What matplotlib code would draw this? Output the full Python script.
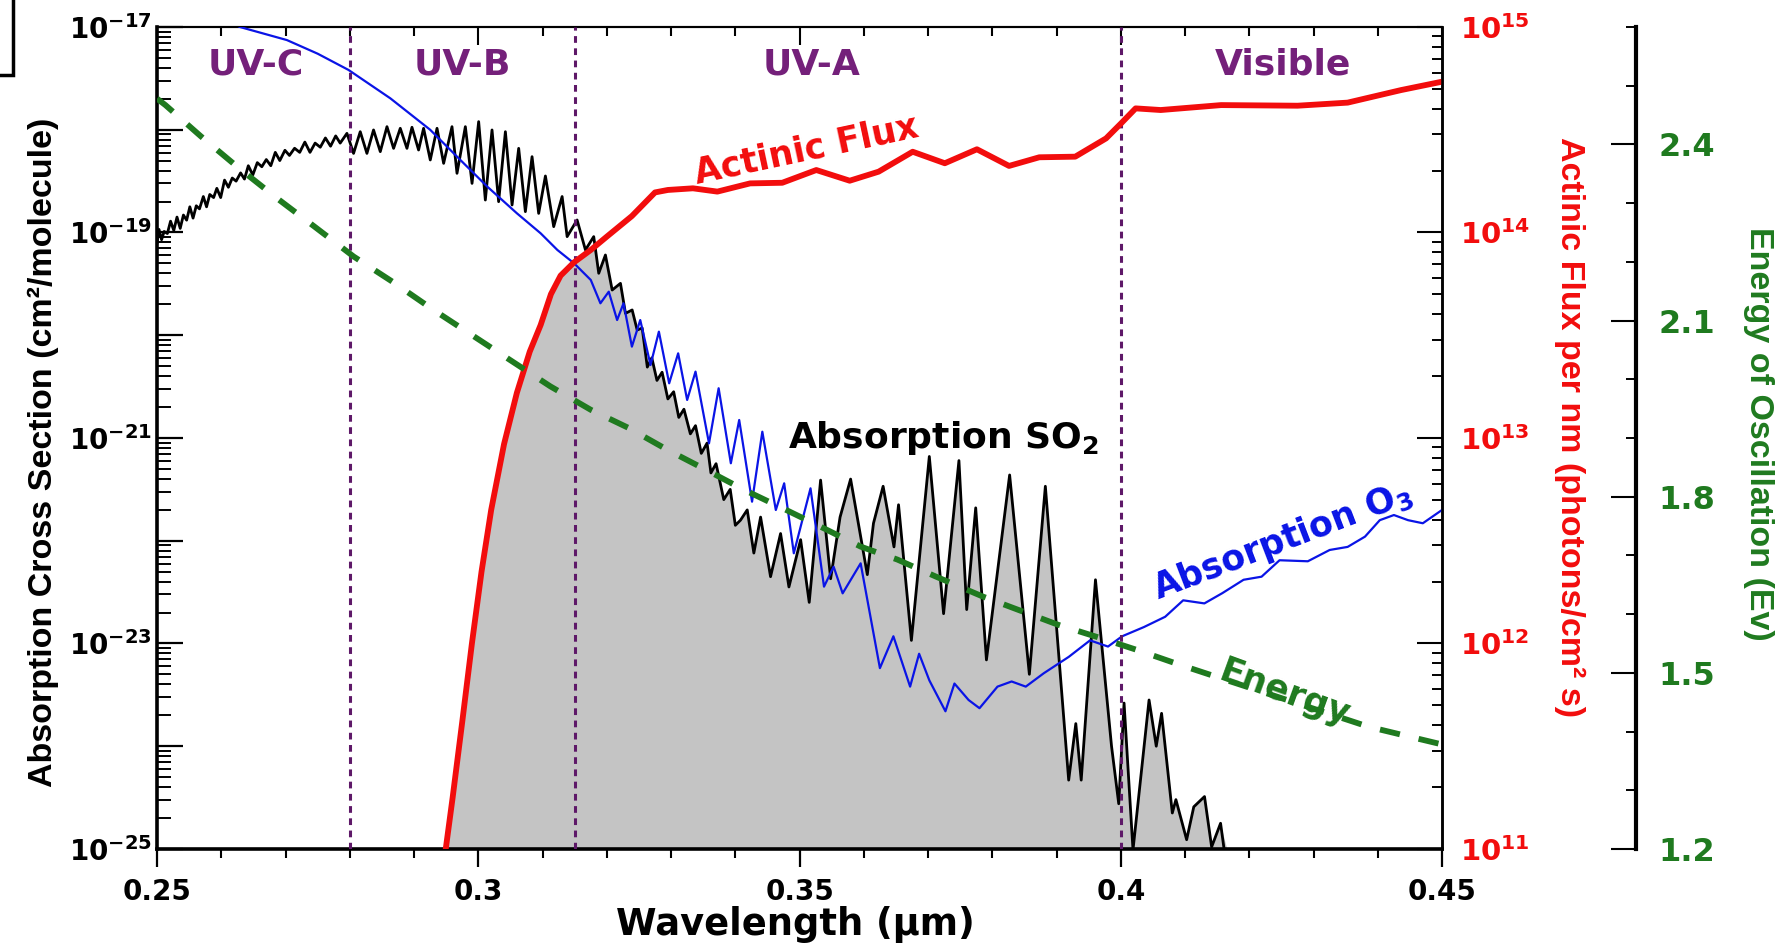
import numpy as np
import matplotlib
matplotlib.use('Agg')
import matplotlib.pyplot as plt
from matplotlib.ticker import FixedLocator, LogLocator, MultipleLocator, NullFormatter, FuncFormatter
from matplotlib.patches import Rectangle

plt.rcParams['font.family'] = ['DejaVu Sans']
plt.rcParams['font.weight'] = 'bold'
plt.rcParams['mathtext.fontset'] = 'dejavusans'

# SO2 absorption cross section, log10(cm2/molecule)
so2_wl = [0.2500, 0.2503, 0.2507, 0.2511, 0.2516, 0.2521, 0.2526, 0.2531, 0.2536, 0.2541,
          0.2546, 0.2551, 0.2556, 0.2561, 0.2566, 0.2572, 0.2577, 0.2582, 0.2588, 0.2593,
          0.2599, 0.2605, 0.2611, 0.2617, 0.2623, 0.2630, 0.2636, 0.2642, 0.2649, 0.2656,
          0.2663, 0.2670, 0.2677, 0.2684, 0.2691, 0.2699, 0.2706, 0.2714, 0.2722, 0.2730,
          0.2738, 0.2746, 0.2754, 0.2762, 0.2770, 0.2778, 0.2785,
          0.27955, 0.28058, 0.28162, 0.28266,
          0.28369, 0.28474, 0.28578, 0.28681, 0.28785, 0.28889, 0.28967, 0.29070, 0.29148, 0.29252,
          0.29357, 0.29460, 0.29590, 0.29668, 0.29798, 0.29902, 0.30005, 0.30109, 0.30213, 0.30316,
          0.30421, 0.30525, 0.30628, 0.30732, 0.30836, 0.30939, 0.31044, 0.31173, 0.31304, 0.31382,
          0.31537, 0.31667, 0.31796, 0.31874, 0.31978, 0.32083, 0.32212, 0.32290, 0.32394, 0.32472,
          0.3255, 0.3263, 0.3270, 0.3278, 0.3286, 0.3295, 0.3304, 0.3312, 0.3320, 0.3330,
          0.3338, 0.3347, 0.3356, 0.3362, 0.3370, 0.3382, 0.3392, 0.3400, 0.3408, 0.34185,
          0.34288, 0.34393, 0.34548, 0.34704, 0.34834, 0.35016, 0.3515, 0.35327, 0.35483, 0.3563,
          0.35794, 0.36054, 0.3615, 0.3630, 0.36469, 0.3654, 0.3674, 0.37019, 0.37241, 0.3748,
          0.37601, 0.37741, 0.37908, 0.38269, 0.38576, 0.38825, 0.39188, 0.39299, 0.39383, 0.39605,
          0.39855, 0.39967, 0.4005, 0.40189, 0.40439, 0.40551, 0.40634, 0.40801, 0.40857, 0.41024,
          0.41135, 0.41302, 0.41413, 0.41552, 0.4165]
so2_log = [-19.10, -18.97, -19.07, -18.99, -19.01, -18.89, -18.98, -18.85, -18.96, -18.83,
           -18.88, -18.75, -18.86, -18.74, -18.77, -18.65, -18.75, -18.63, -18.66, -18.57,
           -18.66, -18.49, -18.56, -18.47, -18.50, -18.42, -18.48, -18.35, -18.44, -18.32,
           -18.36, -18.29, -18.35, -18.22, -18.30, -18.20, -18.25, -18.18, -18.22, -18.12,
           -18.22, -18.13, -18.17, -18.08, -18.16, -18.06, -18.13,
           -18.035, -18.230, -18.019, -18.230,
           -18.002, -18.213, -17.970, -18.181, -17.986, -18.181, -17.976, -18.197, -17.986, -18.294,
           -17.986, -18.327, -17.970, -18.424, -17.970, -18.522, -17.921, -18.684, -18.002, -18.700,
           -18.019, -18.732, -18.181, -18.797, -18.262, -18.814, -18.45, -18.943, -18.65, -19.040,
           -18.878, -19.170, -19.040, -19.397, -19.219, -19.560, -19.495, -19.787, -19.754, -19.949,
           -19.93, -20.31, -20.22, -20.44, -20.36, -20.62, -20.55, -20.80, -20.72, -20.96,
           -20.88, -21.15, -21.05, -21.34, -21.25, -21.60, -21.50, -21.85, -21.80, -21.70,
           -22.12, -21.77, -22.35, -21.93, -22.45, -21.99, -22.60, -21.41, -22.37, -21.77,
           -21.40, -22.33, -21.83, -21.47, -22.06, -21.65, -22.97, -21.18, -22.71, -21.22,
           -22.67, -21.68, -23.16, -21.36, -23.30, -21.47, -24.33, -23.78, -24.33, -22.38,
           -24.00, -24.56, -23.58, -25.01, -23.55, -24.00, -23.68, -24.65, -24.52, -24.91,
           -24.59, -24.49, -24.98, -24.75, -25.20]

# O3 absorption cross section, log10(cm2/molecule)
o3_wl = [0.2550, 0.2629, 0.2702, 0.2750, 0.2798, 0.2863, 0.2925, 0.2972, 0.3014, 0.3060, 0.3097,
         0.3123, 0.3149, 0.3175, 0.3190, 0.3203, 0.3216, 0.3226, 0.3239, 0.3252, 0.3268,
         0.3281, 0.3297, 0.3311, 0.3325, 0.3338, 0.3359, 0.3374, 0.3393, 0.3406, 0.3426,
         0.3442, 0.3463, 0.3476, 0.3491, 0.3517, 0.3538, 0.3553, 0.3567, 0.3595, 0.3625,
         0.3646, 0.3672, 0.3686, 0.3702, 0.3727, 0.3741, 0.3763, 0.3780, 0.3808, 0.3830,
         0.3852, 0.3880, 0.3919, 0.3952, 0.3980, 0.4002, 0.4036, 0.4069, 0.4097, 0.4130,
         0.4158, 0.4191, 0.4219, 0.4247, 0.4291, 0.4325, 0.4353, 0.4380, 0.4403, 0.4425,
         0.4447, 0.4470, 0.4500]
o3_log = [-16.75, -17.00, -17.127, -17.26, -17.418, -17.694, -18.000, -18.294, -18.554, -18.813, -19.008,
          -19.170, -19.300, -19.462, -19.689, -19.576, -19.852, -19.689, -20.111, -19.852, -20.290,
          -19.965, -20.468, -20.176, -20.630, -20.354, -21.052, -20.516, -21.246, -20.825, -21.620,
          -20.939, -21.701, -21.441, -22.122, -21.490, -22.447, -22.253, -22.512, -22.220, -23.24,
          -22.93, -23.42, -23.10, -23.36, -23.66, -23.39, -23.55, -23.63, -23.42, -23.37,
          -23.42, -23.29, -23.13, -22.97, -23.03, -22.93, -22.84, -22.74, -22.58, -22.61,
          -22.51, -22.38, -22.35, -22.19, -22.20, -22.09, -22.06, -21.96, -21.80, -21.75,
          -21.80, -21.83, -21.70]

# actinic flux, log10(photons/cm2 s nm)
flux_wl = [0.2945, 0.2960, 0.2975, 0.2990, 0.3005, 0.3020, 0.3040, 0.3060, 0.3080, 0.3097,
           0.3113, 0.3128, 0.3149, 0.3175, 0.3200, 0.3239, 0.3275, 0.3295, 0.3334, 0.3372,
           0.3423, 0.3473, 0.3526, 0.3578, 0.3623, 0.3676, 0.3726, 0.3776, 0.3826, 0.3873,
           0.3929, 0.3977, 0.4000, 0.4023, 0.4062, 0.4156, 0.4275, 0.4353, 0.4436, 0.4500]
flux_log = [10.90, 11.25, 11.62, 12.00, 12.35, 12.65, 12.97, 13.22, 13.42, 13.55,
            13.70, 13.79, 13.855, 13.915, 13.98, 14.08, 14.195, 14.207, 14.215, 14.199,
            14.239, 14.242, 14.304, 14.252, 14.296, 14.393, 14.337, 14.405, 14.324, 14.366,
            14.369, 14.458, 14.53, 14.604, 14.596, 14.620, 14.617, 14.632, 14.693, 14.734]

# photon energy (Ev)
energy_wl = [0.2500, 0.2513, 0.2568, 0.2627, 0.2687, 0.2745, 0.2806, 0.2868, 0.2929, 0.3112,
             0.3175, 0.3234, 0.3294, 0.3354, 0.3413, 0.3478, 0.3538, 0.3595, 0.3652, 0.3712,
             0.3785, 0.3841, 0.3902, 0.3969, 0.4025, 0.4091, 0.4386, 0.4458, 0.4500]
energy_ev = [2.478, 2.467, 2.414, 2.360, 2.308, 2.260, 2.209, 2.165, 2.119, 1.988,
             1.948, 1.917, 1.880, 1.846, 1.812, 1.778, 1.746, 1.715, 1.693, 1.664,
             1.630, 1.607, 1.582, 1.559, 1.539, 1.514, 1.408, 1.389, 1.378]

region_names = ['UV-C', 'UV-B', 'UV-A', 'Visible']
region_centers = [0.2654, 0.2975, 0.3519, 0.4252]
region_bounds = [0.28, 0.315, 0.40]

purple = '#74207a'
green = '#1f7a1f'

fig = plt.figure(figsize=(17.87, 9.51), dpi=100)
fig.patch.set_facecolor('white')
ax = fig.add_axes([0.0879, 0.1073, 0.7191, 0.8643])
ax.set_xlim(0.25, 0.45)
ax.set_yscale('log')
ax.set_ylim(1e-25, 1e-17)

ax2 = ax.twinx()
ax2.set_yscale('log')
ax2.set_ylim(1e11, 1e15)

ax3 = ax.twinx()
ax3.set_ylim(1.2, 2.6)
ax3.spines['right'].set_position(('axes', 1.151))

# gray area: under SO2 curve and actinic flux curve (flux mapped onto left scale)
so2_wl = np.array(so2_wl)
so2_log = np.array(so2_log)
flux_wl = np.array(flux_wl)
flux_log = np.array(flux_log)
lo1, hi1 = np.log10(ax.get_ylim())
lo2, hi2 = np.log10(ax2.get_ylim())
flux_on_left = lo1 + (flux_log - lo2) / (hi2 - lo2) * (hi1 - lo1)
grid = np.union1d(so2_wl, flux_wl)
grid = grid[(grid >= flux_wl[0]) & (grid <= so2_wl[-1])]
top = np.minimum(np.interp(grid, so2_wl, so2_log), np.interp(grid, flux_wl, flux_on_left))
top = np.maximum(top, lo1)
ax.fill_between(grid, 10.0 ** lo1, 10.0 ** top, color='#c4c4c4', lw=0, zorder=1)

ax.plot(so2_wl, 10.0 ** so2_log, color='black', lw=2.0, zorder=2)
ax.plot(o3_wl, 10.0 ** np.array(o3_log), color='#0a14e6', lw=1.6, zorder=3)
for b in region_bounds:
    ax.axvline(b, color='#5e1868', lw=2.2, dashes=(2.2, 1.8), zorder=4)
for name, c in zip(region_names, region_centers):
    ax.text(c, 0.954, name, transform=ax.get_xaxis_transform(), ha='center', va='center',
            fontsize=26, color=purple, fontweight='bold', zorder=5)

ax2.plot(flux_wl, 10.0 ** flux_log, color='#f20d0d', lw=4.2, solid_capstyle='butt')
ax3.plot(energy_wl, energy_ev, color=green, lw=4.2, dashes=(3.5, 3.3), dash_capstyle='butt')

# annotations
ax2.text(0.3511, 10 ** 14.40, 'Actinic Flux', rotation=12, color='#f20d0d', fontsize=25,
         ha='center', va='center', fontweight='bold')
ax.text(0.3724, 10 ** -21.0, r'Absorption SO$_\mathbf{2}$', color='black', fontsize=26,
        ha='center', va='center', fontweight='bold', zorder=6)
ax.text(0.4252, 10 ** -22.0, r'Absorption O$_\mathbf{3}$', rotation=21, color='#0a14e6',
        fontsize=25, ha='center', va='center', fontweight='bold', zorder=6)
ax3.text(0.4255, 1.465, 'Energy', rotation=-20, color=green, fontsize=25,
         ha='center', va='center', fontweight='bold')

# x axis
ax.xaxis.set_major_locator(FixedLocator([0.25, 0.30, 0.35, 0.40, 0.45]))
ax.xaxis.set_minor_locator(MultipleLocator(0.01))
ax.xaxis.set_major_formatter(FuncFormatter(lambda v, p: ('%.2f' % v).rstrip('0')))
ax.tick_params(axis='x', which='major', direction='out', length=13, width=1.6, labelsize=20, pad=8)
ax.tick_params(axis='x', which='minor', direction='out', length=6.5, width=1.5)
secx = ax.secondary_xaxis('top')
secx.xaxis.set_major_locator(FixedLocator([0.25, 0.30, 0.35, 0.40, 0.45]))
secx.xaxis.set_minor_locator(MultipleLocator(0.01))
secx.tick_params(axis='x', which='major', direction='in', length=13, width=1.5, labeltop=False)
secx.tick_params(axis='x', which='minor', direction='in', length=6.5, width=1.5)
secx.spines['top'].set_linewidth(1.5)

ax.set_xlabel('Wavelength (μm)', fontsize=26.5, fontweight='bold')
ax.xaxis.set_label_coords(0.497, -0.0925)
ax.xaxis.label.set_va('center')

# left axis
ax.yaxis.set_major_locator(LogLocator(base=10, numticks=20))
ax.yaxis.set_minor_locator(LogLocator(base=10, subs=np.arange(2, 10), numticks=200))
ax.yaxis.set_minor_formatter(NullFormatter())


def left_fmt(v, pos):
    e = int(round(np.log10(v)))
    if e % 2 == 1:
        return r'$\mathbf{10^{%d}}$' % e
    return ''


ax.yaxis.set_major_formatter(FuncFormatter(left_fmt))
ax.tick_params(axis='y', which='major', direction='in', length=19, width=1.6, labelsize=20, pad=4)
ax.tick_params(axis='y', which='minor', direction='in', length=10, width=1.4)
ax.set_ylabel('Absorption Cross Section (cm²/molecule)', fontsize=24.5, fontweight='bold',
              family='Liberation Sans', va='center', ha='center')
ax.yaxis.set_label_coords(-0.0887, 0.482)

for s in ['left', 'bottom']:
    ax.spines[s].set_linewidth(2.6)
ax.spines['top'].set_linewidth(1.5)
ax.spines['right'].set_linewidth(1.8)

# right axis: actinic flux
ax2.yaxis.set_major_locator(LogLocator(base=10, numticks=20))
ax2.yaxis.set_minor_locator(LogLocator(base=10, subs=np.arange(2, 10), numticks=200))
ax2.yaxis.set_minor_formatter(NullFormatter())
ax2.yaxis.set_major_formatter(FuncFormatter(lambda v, p: r'$10^{%d}$' % int(round(np.log10(v)))))
ax2.tick_params(axis='y', which='major', direction='in', length=18, width=1.5, labelsize=21,
                labelcolor='#f20d0d', pad=13)
ax2.tick_params(axis='y', which='minor', direction='in', length=7, width=1.4)
ax2.set_ylabel('Actinic Flux per nm (photons/cm² s)', rotation=270, fontsize=24.5,
               fontweight='bold', family='Liberation Sans', color='#f20d0d', va='center', ha='center')
ax2.yaxis.set_label_coords(1.099, 0.513)
for s in ['left', 'top', 'bottom']:
    ax2.spines[s].set_visible(False)
ax2.spines['right'].set_linewidth(1.8)

# energy axis
ax3.yaxis.set_major_locator(FixedLocator([1.2, 1.5, 1.8, 2.1, 2.4]))
ax3.yaxis.set_minor_locator(MultipleLocator(0.1))
ax3.yaxis.set_major_formatter(FuncFormatter(lambda v, p: '%.1f' % v))
ax3.tick_params(axis='y', which='major', direction='in', length=18, width=1.5, labelsize=23,
                labelcolor=green, pad=16)
ax3.tick_params(axis='y', which='minor', direction='in', length=7, width=1.4)
ax3.set_ylabel('Energy of Oscillation (Ev)', rotation=270, fontsize=24.5, fontweight='bold',
               family='Liberation Sans', color=green, va='center', ha='center')
ax3.yaxis.set_label_coords(1.246, 0.505)
for s in ['left', 'top', 'bottom']:
    ax3.spines[s].set_visible(False)
ax3.spines['right'].set_linewidth(3)

# partial frame in the top-left corner
fig.add_artist(Rectangle((-0.02, 1 - 75 / 951), 0.02 + 13 / 1787, 0.2, transform=fig.transFigure,
                         fill=False, lw=2.5, edgecolor='black', clip_on=False))

fig.savefig('out.png', dpi=100, facecolor='white')
